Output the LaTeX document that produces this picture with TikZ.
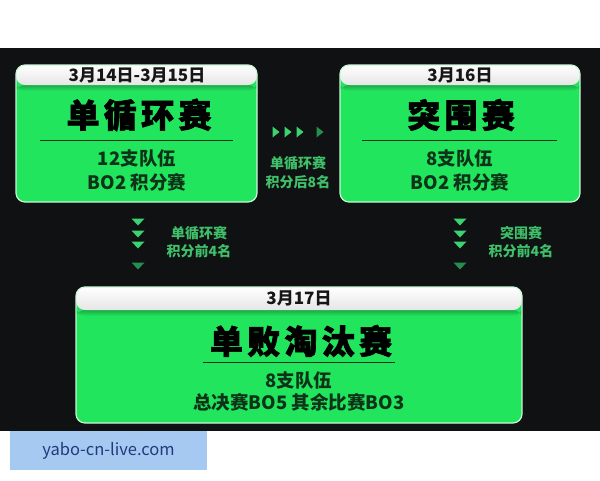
\documentclass[tikz,border=0pt]{standalone}
\usepackage{fontspec}
\setmainfont{Noto Sans CJK SC}
\newfontfamily\cjk{Noto Sans CJK SC}
\newfontfamily\cjktitle{Noto Sans CJK SC}[LetterSpace=13, BoldFeatures={FakeBold=2}]
\definecolor{bg}{HTML}{0F1112}
\definecolor{boxgreen}{HTML}{22E55E}
\definecolor{rim}{HTML}{C9F7D6}
\definecolor{darktext}{HTML}{0E3318}
\definecolor{datetext}{HTML}{161616}
\definecolor{labelgreen}{HTML}{3FBF69}
\definecolor{arrowgreen}{HTML}{3CD270}
\definecolor{arrowdim}{HTML}{258E4E}
\definecolor{wmfill}{HTML}{A5C9F0}
\definecolor{wmtext}{HTML}{22397E}
\begin{document}
\begin{tikzpicture}[x=1pt,y=-1pt,
  box/.style={rounded corners=9pt, draw=rim, line width=1.2pt, inner sep=0pt,
    path picture={
      \fill[boxgreen] (path picture bounding box.south west) rectangle (path picture bounding box.north east);
      \shade[top color=boxgreen!75!black, bottom color=boxgreen]
        ([yshift=-#1]path picture bounding box.north west) rectangle ([yshift=-#1-6pt]path picture bounding box.north east);
      \shade[top color=white, bottom color=white!90!black]
        (path picture bounding box.north west) rectangle ([yshift=-#1]path picture bounding box.north east);
    }},
  datetxt/.style={font=\cjk\bfseries\fontsize{17}{19}\selectfont, text=datetext, inner sep=0pt},
  titletxt/.style={font=\cjktitle\bfseries\fontsize{33}{36}\selectfont, text=black, inner sep=0pt},
  bodytxt/.style={font=\cjk\bfseries\fontsize{18.5}{20}\selectfont, text=darktext, inner sep=0pt},
  labeltxt/.style={font=\cjk\bfseries\fontsize{14}{16}\selectfont, text=labelgreen, inner sep=0pt},
  rule/.style={draw=darktext, line width=0.6pt},
  rtri/.pic={\fill[#1] (-3.5,-5.5) -- (3.5,0) -- (-3.5,5.5) -- cycle;},
  dtri/.pic={\fill[#1] (-6.5,-3.5) -- (6.5,-3.5) -- (0,3.5) -- cycle;},
]
\useasboundingbox (0,0) rectangle (600,480);
\fill[white] (0,0) rectangle (600,480);
\fill[bg] (0,48) rectangle (600,431);

% boxes
\node[box=20pt, minimum width=241pt, minimum height=137pt] (b1) at (136.5,133.5) {};
\node[box=20pt, minimum width=240pt, minimum height=137pt] (b2) at (460,133.5) {};
\node[box=23pt, minimum width=446pt, minimum height=136pt] (b3) at (299,355) {};

% box 1
\node[datetxt] (d1) at (137,75) {3月14日-3月15日};
\node[titletxt] (t1) at (139,115) {单循环赛};
\coordinate (r1a) at (40,140); \coordinate (r1b) at (233,140);
\draw[rule] (r1a) -- (r1b);
\node[bodytxt] (p1a) at (137,158) {12支队伍};
\node[bodytxt] (p1b) at (137,182) {BO2 积分赛};

% box 2
\node[datetxt] (d2) at (460,75) {3月16日};
\node[titletxt] (t2) at (461,115) {突围赛};
\coordinate (r2a) at (362,140); \coordinate (r2b) at (557,140);
\draw[rule] (r2a) -- (r2b);
\node[bodytxt] (p2a) at (460,158) {8支队伍};
\node[bodytxt] (p2b) at (460,182) {BO2 积分赛};

% box 3
\node[datetxt] (d3) at (299,298) {3月17日};
\node[titletxt] (t3) at (301,341) {单败淘汰赛};
\coordinate (r3a) at (203,362); \coordinate (r3b) at (395,362);
\draw[rule] (r3a) -- (r3b);
\node[bodytxt] (p3a) at (299,380) {8支队伍};
\node[bodytxt] (p3b) at (299,402) {总决赛BO5 其余比赛BO3};

% right arrows between box 1 and box 2
\pic at (276,132) {rtri=arrowgreen};
\pic at (288,132) {rtri=arrowgreen};
\pic at (300,132) {rtri=arrowgreen};
\pic at (320,132) {rtri=arrowdim};
\node[labeltxt] (m1) at (298,163) {单循环赛};
\node[labeltxt] (m2) at (298,182) {积分后8名};

% down arrows left
\pic at (138,222) {dtri=arrowgreen};
\pic at (138,234) {dtri=arrowgreen};
\pic at (138,245) {dtri=arrowgreen};
\pic at (138,266) {dtri=arrowdim};
\node[labeltxt] (l1) at (199,233) {单循环赛};
\node[labeltxt] (l2) at (199,251) {积分前4名};

% down arrows right
\pic at (460,222) {dtri=arrowgreen};
\pic at (460,234) {dtri=arrowgreen};
\pic at (460,245) {dtri=arrowgreen};
\pic at (460,266) {dtri=arrowdim};
\node[labeltxt] (q1) at (521,233) {突围赛};
\node[labeltxt] (q2) at (521,251) {积分前4名};

% watermark
\node[fill=wmfill, minimum width=197pt, minimum height=39pt, inner sep=0pt,
      font=\cjk\fontsize{16.5}{18}\selectfont, text=wmtext] (wm) at (108.5,450.5) {yabo-cn-live.com};
\end{tikzpicture}
\end{document}
